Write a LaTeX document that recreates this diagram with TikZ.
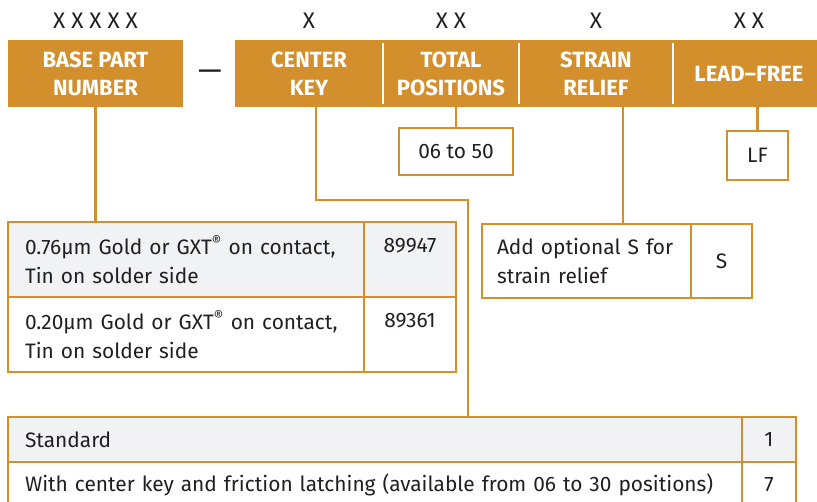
\documentclass[tikz,border=0pt]{standalone}
\usepackage{fontspec}
\setmainfont{Fira Sans}
\definecolor{ampgold}{RGB}{210, 143, 44}
\definecolor{rowgray}{RGB}{241, 242, 244}
\definecolor{inkdark}{RGB}{35, 31, 32}
\usetikzlibrary{calc}

\begin{document}
\begin{tikzpicture}[x=1pt, y=-1pt,
  hdr/.style={fill=ampgold, text=white, font=\bfseries\fontsize{22}{28}\selectfont, align=center, inner sep=0pt, minimum height=67pt},
  code/.style={text=inkdark, font=\fontsize{22.5}{22}\selectfont, inner sep=0pt},
  cell/.style={draw=ampgold, line width=1.8pt, text=inkdark, font=\fontsize{20.9}{29}\selectfont, inner sep=0pt},
  txt/.style={align=left, inner xsep=17pt},
  link/.style={draw=ampgold, line width=2.2pt},
  sep/.style={draw=white, line width=1.5pt}
]
  \useasboundingbox (0,0) rectangle (817,501);

  % part number bar
  \node[hdr, minimum width=175pt] (base) at (95.5,73.5) {BASE PART\\NUMBER};
  \node[text=inkdark, font=\fontsize{30}{30}\selectfont, inner sep=0pt] (dash) at (210,75) {\textemdash};
  \node[hdr, minimum width=148pt] (ck) at (309,73.5) {CENTER\\KEY};
  \node[hdr, minimum width=136pt] (tp) at (451,73.5) {TOTAL\\POSITIONS};
  \node[hdr, minimum width=154pt] (sr) at (596,73.5) {STRAIN\\RELIEF};
  \node[hdr, minimum width=152pt] (lf) at (749,73.5) {LEAD–FREE};
  \foreach \a in {ck, tp, sr}
    \draw[sep] ($(\a.north east)+(0,3)$) -- ($(\a.south east)+(0,-3)$);

  \node[code] (xbase) at (95.5,21) {X X X X X};
  \node[code] (xck) at (309,21) {X};
  \node[code] (xtp) at (451,21) {X X};
  \node[code] (xsr) at (596,21) {X};
  \node[code] (xlf) at (749,21) {X X};

  % option boxes
  \node[cell, minimum width=114pt, minimum height=47pt] (range) at (456,151.5) {06 to 50};
  \node[cell, minimum width=61pt, minimum height=49pt] (lfbox) at (757.5,155.5) {LF};

  \node[cell, txt, fill=rowgray, text width=322pt, minimum height=75pt] (plA) at (186,259.5)
    {0.76µm Gold or GXT\textsuperscript{®} on contact,\\Tin on solder side};
  \node[cell, align=center, fill=rowgray, minimum width=92pt, minimum height=75pt] (plAnum) at (410,259.5)
    {89947\\\mbox{}};
  \node[cell, txt, text width=322pt, minimum height=75pt] (plB) at (186,334.5)
    {0.20µm Gold or GXT\textsuperscript{®} on contact,\\Tin on solder side};
  \node[cell, align=center, minimum width=92pt, minimum height=75pt] (plBnum) at (410,334.5)
    {89361\\\mbox{}};

  \node[cell, align=left, inner xsep=15pt, text width=179pt, minimum height=74pt] (srA) at (586.5,261)
    {\mbox{Add optional S for}\\\mbox{strain relief}};
  \node[cell, minimum width=61pt, minimum height=74pt] (srAnum) at (721.5,261) {S};

  \node[cell, txt, fill=rowgray, text width=700pt, minimum height=45pt] (keyA) at (375,439.5) {Standard};
  \node[cell, fill=rowgray, minimum width=54pt, minimum height=45pt] (keyAnum) at (769,439.5) {1};
  \node[cell, txt, text width=700pt, minimum height=45pt] (keyB) at (375,484.5)
    {\mbox{With center key and friction latching (available from 06 to 30 positions)}};
  \node[cell, minimum width=54pt, minimum height=45pt] (keyBnum) at (769,484.5) {7};

  % connectors
  \coordinate (ckbend) at (468,200);
  \draw[link] (base.south) -- (base.south |- plA.north);
  \draw[link] ($(ck.south)+(7,0)$) |- (ckbend) -- (ckbend |- keyA.north);
  \draw[link] (range.north) -- (range.north |- tp.south);
  \draw[link] ($(sr.south)+(27,0)$) coordinate (srfoot) -- (srfoot |- srA.north);
  \draw[link] (lfbox.north) -- (lfbox.north |- lf.south);
\end{tikzpicture}
\end{document}
